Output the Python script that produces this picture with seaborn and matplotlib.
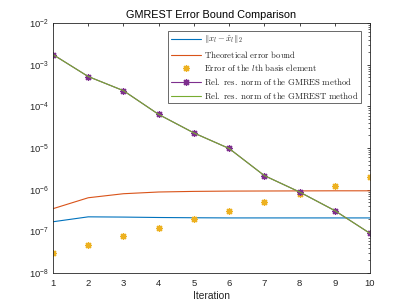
import numpy as np
import pandas as pd
import matplotlib
matplotlib.use("Agg")
import matplotlib.pyplot as plt
import seaborn as sns
from matplotlib.font_manager import FontProperties
from matplotlib.ticker import FixedLocator, NullFormatter, LogFormatterSciNotation

iterations = [1, 2, 3, 4, 5, 6, 7, 8, 9, 10]
err_norm = [1.7e-7, 2.23e-7, 2.2e-7, 2.15e-7, 2.12e-7, 2.1e-7, 2.1e-7, 2.1e-7, 2.1e-7, 2.1e-7]
theory_bound = [3.5e-7, 6.4e-7, 8.0e-7, 8.8e-7, 9.1e-7, 9.25e-7, 9.3e-7, 9.35e-7, 9.4e-7, 9.4e-7]
basis_err = [3.0e-8, 4.7e-8, 7.6e-8, 1.22e-7, 1.96e-7, 3.1e-7, 4.98e-7, 7.85e-7, 1.26e-6, 2.0e-6]
gmres_res = [1.75e-3, 5.2e-4, 2.38e-4, 6.4e-5, 2.3e-5, 9.75e-6, 2.18e-6, 8.8e-7, 3.15e-7, 8.95e-8]
gmrest_res = [1.75e-3, 5.2e-4, 2.38e-4, 6.4e-5, 2.3e-5, 9.75e-6, 2.18e-6, 8.8e-7, 3.15e-7, 8.95e-8]
y_decades = [1e-8, 1e-7, 1e-6, 1e-5, 1e-4, 1e-3, 1e-2]

labels = [
    r'$\|x_l - \hat{x}_l\|_2$',
    r'$\mathrm{Theoretical\ error\ bound}$',
    r'$\mathrm{Error\ of\ the\ }l\mathrm{th\ basis\ element}$',
    r'$\mathrm{Rel.\ res.\ norm\ of\ the\ GMRES\ method}$',
    r'$\mathrm{Rel.\ res.\ norm\ of\ the\ GMREST\ method}$',
]
colors = ['#0072BD', '#D95319', '#EDB120', '#7E2F8E', '#77AC30']

sns.set_style("white")
plt.rcParams['font.family'] = ['Liberation Sans', 'DejaVu Sans']
plt.rcParams['mathtext.fontset'] = 'custom'
plt.rcParams['mathtext.rm'] = 'Liberation Sans'
plt.rcParams['mathtext.it'] = 'Liberation Sans:italic'
plt.rcParams['mathtext.bf'] = 'Liberation Sans:bold'

df = pd.DataFrame({'it': iterations, 'a': err_norm, 'b': theory_bound,
                   'c': basis_err, 'd': gmres_res, 'e': gmrest_res})

fig = plt.figure(figsize=(4.09, 3.07), dpi=100)
ax = fig.add_axes([0.1296, 0.1107, 0.775, 0.8143])

star = (8, 2, 0)
sns.lineplot(data=df, x='it', y='a', ax=ax, color=colors[0], lw=0.8, label=labels[0])
sns.lineplot(data=df, x='it', y='b', ax=ax, color=colors[1], lw=0.8, label=labels[1])
ax.plot(df['it'], df['c'], linestyle='none', marker=star, color=colors[2],
        markersize=5, markeredgewidth=0.9, label=labels[2])
ax.plot(df['it'], df['d'], color=colors[3], lw=0.8, marker=star, markersize=5,
        markeredgewidth=0.9, label=labels[3])
sns.lineplot(data=df, x='it', y='e', ax=ax, color=colors[4], lw=0.8, label=labels[4])

ax.set_yscale('log')
ax.set_xlim(iterations[0], iterations[-1])
ax.set_ylim(y_decades[0], y_decades[-1])
ax.set_xticks(iterations)
ax.yaxis.set_major_locator(FixedLocator(y_decades))
ax.yaxis.set_major_formatter(LogFormatterSciNotation())
minor = [m * d for d in y_decades[:-1] for m in range(2, 10)]
ax.yaxis.set_minor_locator(FixedLocator(minor))
ax.yaxis.set_minor_formatter(NullFormatter())
ax.tick_params(axis='both', which='both', direction='in', top=True, right=True,
               colors='#262626', labelcolor='#262626', labelsize=6.8)
ax.tick_params(axis='x', which='major', pad=4)
ax.tick_params(axis='y', which='major', pad=3)
ax.tick_params(which='major', length=2.2, width=0.6)
ax.tick_params(which='minor', length=1.3, width=0.5)
for s in ax.spines.values():
    s.set_color('#262626')
    s.set_linewidth(0.6)

ax.set_xlabel('Iteration', fontsize=7.4, color='#262626', labelpad=2.5)
ax.set_ylabel('')
ax.set_title('GMREST Error Bound Comparison', fontsize=7.8, color='black', pad=3.5)

leg = ax.legend(loc='upper right', bbox_to_anchor=(0.972, 0.968),
                prop=FontProperties(family='serif', math_fontfamily='cm', size=6.3),
                frameon=True, fancybox=False, edgecolor='#262626',
                handlelength=3.5, handletextpad=0.3, borderpad=0.3,
                labelspacing=0.3, borderaxespad=0)
leg.get_frame().set_linewidth(0.6)

fig.savefig('out.png', dpi=100)
